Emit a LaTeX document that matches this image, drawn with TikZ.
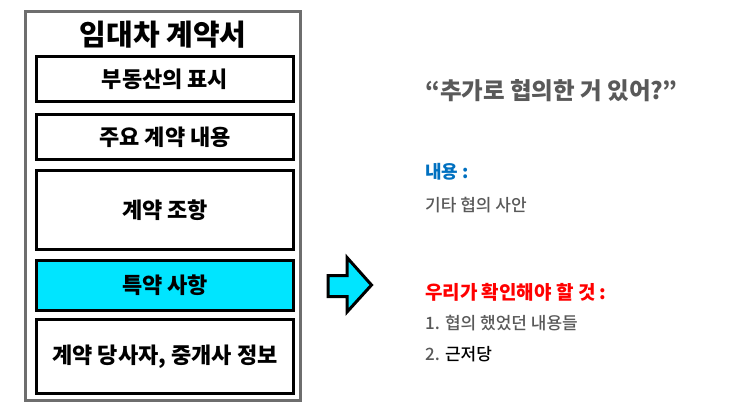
\documentclass[tikz,border=0pt]{standalone}
\usepackage{fontspec}
\setmainfont{Noto Sans CJK KR}
\newfontfamily\notefont{Noto Sans CJK KR Medium}
\usetikzlibrary{positioning}
\definecolor{framegray}{RGB}{110, 110, 110}
\definecolor{hilite}{RGB}{0, 229, 255}
\definecolor{textgray}{RGB}{89, 89, 89}
\definecolor{headblue}{RGB}{0, 112, 192}
\definecolor{headred}{RGB}{255, 0, 0}

\begin{document}
\begin{tikzpicture}[x=1pt, y=-1pt,
                secbox/.style={draw=black, line width=3pt, fill=white,
                    minimum width=257pt, inner sep=0pt,
                    font=\bfseries\fontsize{22}{26}\selectfont},
                sidetext/.style={anchor=west, inner sep=0pt, text=textgray}
            ]
            \useasboundingbox (0, 0) rectangle (745, 418);

            % the contract as a whole
            \draw[framegray, line width=3.5pt, fill=white] (25.5, 11.5) rectangle (300.5, 400.5);
            \node[font=\bfseries\fontsize{29}{32}\selectfont] (title) at (163, 35) {임대차 계약서};

            \node[secbox, minimum height=45pt] (estate) at (165, 79) {부동산의 표시};
            \node[secbox, minimum height=45pt] (main) at (165, 137) {주요 계약 내용};
            \node[secbox, minimum height=79pt] (terms) at (165, 210) {계약 조항};
            \node[secbox, minimum height=50pt, fill=hilite] (special) at (165, 285) {특약 사항};
            \node[secbox, minimum height=74pt] (parties) at (165, 356.5) {계약 당사자, 중개사 정보};

            % pointer to the notes
            \draw[black, line width=3pt, fill=hilite, line join=miter]
                (328, 275.5) -- (347, 275.5) -- (347, 257.5) -- (371.5, 285)
                -- (347, 312) -- (347, 296.5) -- (328, 296.5) -- cycle;

            % notes on the right
            \node[sidetext, font=\bfseries\fontsize{23.5}{28}\selectfont] (question) at (425, 91)
                {“추가로 협의한 거 있어?”};
            \node[sidetext, text=headblue, font=\bfseries\fontsize{18}{21}\selectfont] (contenthead) at (425, 172)
                {내용 :};
            \node[sidetext, font=\notefont\fontsize{17}{20}\selectfont] (content) at (425, 205)
                {기타 협의 사안};
            \node[sidetext, text=headred, font=\bfseries\fontsize{19}{22}\selectfont] (checkhead) at (425, 292)
                {우리가 확인해야 할 것 :};
            \node[sidetext, font=\notefont\fontsize{17}{20}\selectfont] (checkone) at (425, 323)
                {1. 협의 했었던 내용들};
            \node[sidetext, text=black, font=\notefont\fontsize{17}{20}\selectfont] (checktwo) at (425, 354)
                {{\color{textgray}2.} 근저당};

            \end{tikzpicture}
\end{document}
